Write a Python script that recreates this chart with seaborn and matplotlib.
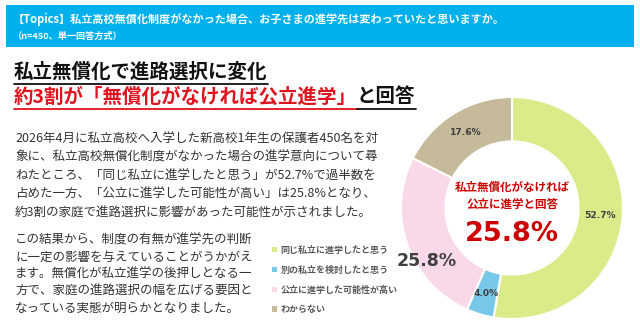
import matplotlib
matplotlib.use("Agg")
import matplotlib.pyplot as plt
from matplotlib.patches import Rectangle
from matplotlib.lines import Line2D
import seaborn as sns

# ---------------- data ----------------
categories = ["同じ私立に進学したと思う", "別の私立を検討したと思う",
              "公立に進学した可能性が高い", "わからない"]
values = [52.7, 4.0, 25.8, 17.6]
colors = ["#DCEA8A", "#78C9E9", "#F9D8E7", "#C5BA9A"]
highlight_index = 2

header_title = "【Topics】私立高校無償化制度がなかった場合、お子さまの進学先は変わっていたと思いますか。"
header_sub = "（n=450、単一回答方式）"
headline1 = "私立無償化で進路選択に変化"
headline2_red = "約3割が「無償化がなければ公立進学」"
headline2_black = "と回答"
para1 = [
    "2026年4月に私立高校へ入学した新高校1年生の保護者450名を対",
    "象に、私立高校無償化制度がなかった場合の進学意向について尋",
    "ねたところ、「同じ私立に進学したと思う」が52.7%で過半数を",
    "占めた一方、「公立に進学した可能性が高い」は25.8%となり、",
    "約3割の家庭で進路選択に影響があった可能性が示されました。",
]
para2 = [
    "この結果から、制度の有無が進学先の判断",
    "に一定の影響を与えていることがうかがえ",
    "ます。無償化が私立進学の後押しとなる一",
    "方で、家庭の進路選択の幅を広げる要因と",
    "なっている実態が明らかとなりました。",
]
center_lines = ["私立無償化がなければ", "公立に進学と回答"]

# ---------------- style ----------------
sns.set_theme(style="white")
plt.rcParams['font.family'] = ['Noto Sans CJK JP', 'DejaVu Sans']
palette = sns.color_palette(colors)

W, H = 640, 335
fig = plt.figure(figsize=(W / 100, H / 100), dpi=100)
fig.patch.set_facecolor("white")


def fx(x):
    return x / W


def fy(y):
    return 1 - y / H


# header bar
fig.add_artist(Rectangle((fx(6), fy(47)), 628 / W, 42 / H, transform=fig.transFigure,
                         facecolor="#00B0EC", edgecolor="none"))
fig.text(fx(13), fy(19), header_title, color="white", fontsize=8.0, fontweight="bold",
         va="center", ha="left")
fig.text(fx(13), fy(36), header_sub, color="white", fontsize=6.6, fontweight="bold",
         va="center", ha="left")

# headlines
t1 = fig.text(fx(14), fy(72), headline1, color="#111111", fontsize=14, fontweight="bold",
              va="center", ha="left")
t2a = fig.text(fx(14), fy(97), headline2_red, color="#E0141E", fontsize=14, fontweight="bold",
               va="center", ha="left")
fig.canvas.draw()
r = fig.canvas.get_renderer()
bb2 = t2a.get_window_extent(r)
t2b = fig.text(bb2.x1 / W, fy(97), headline2_black, color="#111111", fontsize=14,
               fontweight="bold", va="center", ha="left")
fig.canvas.draw()
bb1 = t1.get_window_extent(r)
bb3 = t2b.get_window_extent(r)


def underline(x0, x1, ypix, color):
    fig.add_artist(Line2D([x0 / W, x1 / W], [fy(ypix), fy(ypix)], transform=fig.transFigure,
                          color=color, linewidth=1.3))


underline(bb1.x0, bb1.x1, 84, "#111111")
underline(bb2.x0, bb2.x1, 109, "#E0141E")
underline(bb3.x0, bb3.x1, 109, "#111111")

# paragraphs
for i, line in enumerate(para1):
    fig.text(fx(15), fy(139 + i * 18.5), line, color="#333333", fontsize=9.0,
             va="center", ha="left")
for i, line in enumerate(para2):
    fig.text(fx(15), fy(240 + i * 17.0), line, color="#333333", fontsize=9.0,
             va="center", ha="left")

# donut
cx, cy, rad = 512, 208, 111
ax = fig.add_axes([fx(cx - rad), fy(cy + rad), 2 * rad / W, 2 * rad / H])
_vals = iter(values)
wedges, texts, autotexts = ax.pie(
    values, colors=palette, startangle=90, counterclock=False,
    wedgeprops=dict(width=0.4, edgecolor="white", linewidth=1.5),
    autopct=lambda p: f"{next(_vals):.1f}%", pctdistance=0.8,
    textprops=dict(color="#404040", fontsize=6.6, fontweight="bold", family="DejaVu Sans"))
ax.set_xlim(-1, 1)
ax.set_ylim(-1, 1)
ax.set_aspect("equal")
ax.axis("off")

hl = autotexts[highlight_index]
hl.set_position((-0.77, -0.48))
hl.set_fontsize(12.5)
hl.set_color("#404040")
hl.set_fontweight("bold")

ax.text(0, 0.19, center_lines[0], color="#CC0000", fontsize=8.3, fontweight="bold",
        ha="center", va="center")
ax.text(0, 0.035, center_lines[1], color="#CC0000", fontsize=8.3, fontweight="bold",
        ha="center", va="center")
ax.text(0, -0.23, f"{values[highlight_index]:.1f}%", color="#CC0000", fontsize=19.5,
        fontweight="bold", ha="center", va="center", family="DejaVu Sans")

# legend
leg = fig.legend(wedges, categories, loc="center left",
                 bbox_to_anchor=(fx(272), fy(280)), frameon=False,
                 fontsize=6.5, labelspacing=1.2, handlelength=0.55, handleheight=0.55,
                 handletextpad=0.4, borderpad=0, borderaxespad=0)
for txt in leg.get_texts():
    txt.set_color("#595959")
    txt.set_fontweight("bold")
for h in leg.legend_handles:
    h.set_edgecolor("none")

fig.savefig("out.png", dpi=100, facecolor="white")
